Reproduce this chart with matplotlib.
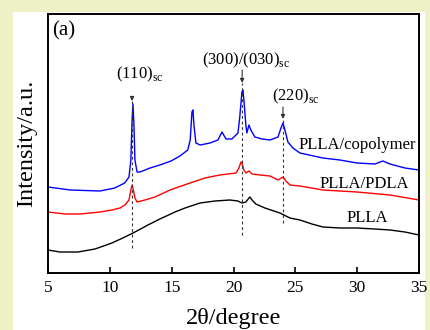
import numpy as np
import matplotlib
matplotlib.use("Agg")
import matplotlib.pyplot as plt
from matplotlib.patches import Rectangle

plt.rcParams["font.family"] = ["Liberation Serif", "DejaVu Serif"]
plt.rcParams["mathtext.fontset"] = "custom"
plt.rcParams["mathtext.rm"] = "Liberation Serif"

# --- data (2theta, intensity in arbitrary units) ---
copoly_x = [5.0, 6.8, 9.2, 10.4, 11.2, 11.55, 11.7, 11.8, 11.87, 11.95, 12.03, 12.2, 12.44,
            13.25, 14.05, 14.95, 15.67, 16.3, 16.5, 16.64, 16.72, 16.8, 16.96, 17.3, 18.1,
            18.74, 19.07, 19.39, 19.87, 20.36, 20.5, 20.68, 20.76, 20.84, 21.0, 21.08, 21.25,
            21.4, 21.73, 22.3, 22.95, 23.6, 23.84, 24.0, 24.16, 24.4, 24.8, 25.37, 27.23,
            28.6, 29.98, 31.43, 32.08, 32.65, 33.86, 35.0]
copoly_y = [86, 83, 82, 85, 90, 96, 113, 153, 169, 148, 113, 101, 101,
            105, 108, 112, 117, 123, 133, 161, 163, 148, 130, 128, 130,
            133, 141, 134, 134, 140, 155, 181, 183, 173, 148, 140, 148,
            143, 136, 134, 133, 136, 145, 150, 143, 131, 125, 120, 115,
            113, 110, 109, 112, 109, 105, 103]

pdla_x = [5.0, 6.37, 7.59, 9.2, 10.17, 10.82, 11.22, 11.55, 11.7, 11.8, 11.87, 12.03, 12.2,
          12.84, 13.65, 14.86, 16.48, 17.69, 18.9, 20.2, 20.44, 20.6, 20.68, 20.84, 21.0,
          21.25, 21.5, 22.14, 22.95, 23.6, 24.0, 24.24, 24.56, 25.37, 27.23, 29.98, 32.65, 35.0]
pdla_y = [61, 59, 59, 61, 63, 65, 68, 73, 83, 88, 85, 75, 71,
          73, 76, 83, 90, 95, 98, 100, 105, 111, 110, 103, 100,
          102, 99, 98, 97, 93, 96, 92, 88, 87, 83, 81, 78, 73]

plla_x = [5.0, 5.97, 7.43, 8.8, 10.17, 11.22, 12.03, 13.08, 14.05, 15.27, 16.08, 17.3, 18.5,
          19.7, 20.36, 20.68, 21.0, 21.25, 21.33, 21.5, 21.8, 22.54, 23.75, 24.56, 25.37,
          26.34, 27.23, 28.6, 29.98, 31.43, 32.65, 33.86, 35.0]
plla_y = [23, 21, 21, 24, 30, 36, 41, 48, 54, 61, 65, 70, 72,
          73, 72, 70, 71, 75, 76, 73, 69, 65, 60, 55, 53,
          49, 46, 45, 45, 44, 43, 41, 38]

peak_pos = [11.8, 20.7, 24.0]
peak_names = ["(110)", "(300)/(030)", "(220)"]

fig = plt.figure(figsize=(4.3, 3.3), dpi=100, facecolor="#EFF2C6")
fig.patches.append(Rectangle((13 / 430, 0), 412 / 430, 318 / 330,
                             transform=fig.transFigure, facecolor="white",
                             edgecolor="none", zorder=-10))
ax = fig.add_axes([48 / 430, 57 / 330, 371 / 430, 259 / 330])

ax.plot(copoly_x, copoly_y, color="#0000FF", lw=1.0)
ax.plot(pdla_x, pdla_y, color="#FF0000", lw=1.0)
ax.plot(plla_x, plla_y, color="black", lw=1.0)

# peak markers: arrow + dashed guide
dash_top = [176, 203, 166]
arrow_tip = [172, 190, 154]
dash_bot = [25, 38, 50]
lab_xy = [(12.45, 199), (21.0, 213), (25.0, 177)]
for p, name, t, a, b, (lx, ly) in zip(peak_pos, peak_names, dash_top, arrow_tip, dash_bot, lab_xy):
    ax.plot([p, p], [b, a], ls=(0, (2.5, 2.5)), color="#333333", lw=0.8)
    ax.annotate("", xy=(p, a), xytext=(p, t),
                arrowprops=dict(arrowstyle="-|>", color="#333333", lw=0.8,
                                mutation_scale=6, shrinkA=0, shrinkB=0))
    ax.text(lx, ly, name + r"$_{\mathrm{sc}}$", ha="center", va="center", fontsize=12)

ax.text(30.0, 128, "PLLA/copolymer", ha="center", va="center", fontsize=12)
ax.text(30.55, 89, "PLLA/PDLA", ha="center", va="center", fontsize=12)
ax.text(30.8, 55, "PLLA", ha="center", va="center", fontsize=12)
ax.text(0.01, 0.935, "(a)", transform=ax.transAxes, ha="left", va="center", fontsize=15)

ax.set_xlim(5, 35)
ax.set_ylim(0, 259)
ax.set_xticks([5, 10, 15, 20, 25, 30, 35])
ax.set_yticks([])
ax.tick_params(axis="x", direction="in", length=4, width=1.2, labelsize=12.5, pad=5)
for s in ax.spines.values():
    s.set_linewidth(1.4)
ax.set_xlabel("2θ/degree", fontsize=17.5, labelpad=9)
ax.set_ylabel("Intensity/a.u.", fontsize=17.5, labelpad=8)

fig.savefig("out.png", dpi=100, facecolor=fig.get_facecolor())
